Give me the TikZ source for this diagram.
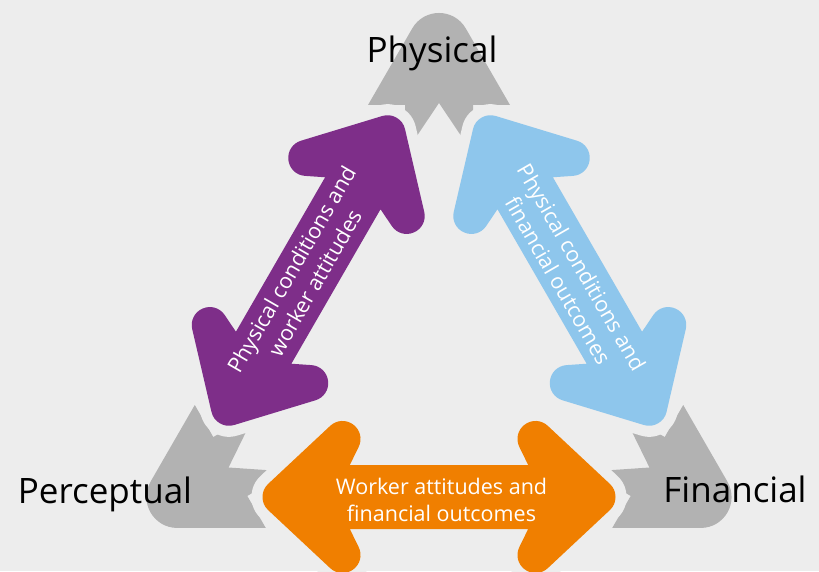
\documentclass[tikz,border=0pt]{standalone}
\usepackage{fontspec}
\setmainfont{Open Sans}
\definecolor{bggray}{RGB}{237,237,237}
\definecolor{headgray}{RGB}{178,178,178}
\definecolor{linkpurple}{RGB}{126,46,137}
\definecolor{linkblue}{RGB}{142,198,236}
\definecolor{linkorange}{RGB}{240,127,0}

\begin{document}
\begin{tikzpicture}[x=1pt,y=1pt,
  headshape/.style={fill=headgray},
  linkshape/.style={draw=#1,fill=#1,line width=36pt,line join=round,
    preaction={draw=bggray,fill=bggray,line width=58pt,line join=round}},
  cornerlabel/.style={font=\fontsize{35}{42}\selectfont,text=black,anchor=base},
  linklabel/.style={font=\fontsize{21.5}{27}\selectfont,text=white,align=center}]
\useasboundingbox (0,0) rectangle (819,571);
\fill[bggray] (0,0) rectangle (819,571);

% Gray heads at the three corners
\foreach \ang in {0,120,-120}{
  \fill[headshape,shift={(439,225)},rotate=\ang] (-71,241) -- (-26.8,317.5)
    .. controls (-14.85,338.2) and (14.85,338.2) .. (26.8,317.5) -- (71,241)
    -- (34,241) -- (34,192.4) -- (0,243) -- (-34,192.4) -- (-34,241) -- cycle;
}

% Two-way links between the corners
\foreach \ang/\col in {0/linkorange,-120/linkpurple,120/linkblue}{
  \begin{scope}[shift={(439,225)},rotate=\ang,yshift=-151pt]
    \path[linkshape=\col] (-158.5,0) -- (-96.5,58) -- (-118,14) -- (118,14)
      -- (96.5,58) -- (158.5,0) -- (96.5,-58) -- (118,-14) -- (-118,-14)
      -- (-96.5,-58) -- cycle;
  \end{scope}
}

% Corner labels
\node[cornerlabel] (physical) at (432,508.5) {Physical};
\node[cornerlabel] (perceptual) at (105,68) {Perceptual};
\node[cornerlabel] (financial) at (735,69) {Financial};

% Link labels
\node[linklabel] (attfin) at (441.5,71) {Worker attitudes and\\financial outcomes};
\node[linklabel,rotate=60] (physatt) at (303,295) {Physical conditions and\\worker attitudes};
\node[linklabel,rotate=-60] (physfin) at (570,297) {Physical conditions and\\financial outcomes};
\end{tikzpicture}
\end{document}
